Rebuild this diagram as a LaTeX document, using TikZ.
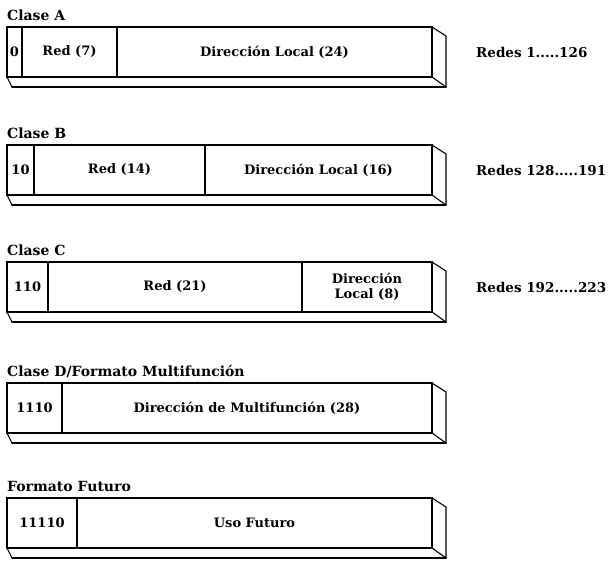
\documentclass[tikz,border=0pt]{standalone}
\usepackage{fontspec}
\setmainfont{DejaVu Serif}
\usetikzlibrary{positioning}
\tikzset{
    cell/.style={draw, line width=1.1pt, minimum height=50pt, inner sep=2pt,
                 outer sep=0pt, align=center,
                 font=\bfseries\fontsize{13}{15}\selectfont},
    clase/.style={anchor=base west, inner sep=0pt,
                  font=\bfseries\fontsize{14}{16}\selectfont},
    redes/.style={anchor=west, inner sep=0pt,
                  font=\bfseries\fontsize{13.5}{16}\selectfont},
    face/.style={draw, line width=1.1pt, line join=round},
    rim/.style={line width=2pt, line cap=round},
}

\begin{document}
\begin{tikzpicture}[x=1pt, y=-1pt]
    \useasboundingbox (0,0) rectangle (615,560);

    % Clase A
    \node[cell, anchor=north west, minimum width=15pt] (a0) at (7,27) {0};
    \node[cell, minimum width=95pt, right=0pt of a0] (a1) {Red (7)};
    \node[cell, minimum width=315pt, right=0pt of a1] (a2) {Dirección Local (24)};
    \node[above=7pt of a0.north west, clase] (ta) {Clase A};
    \node[redes] (ra) at (476,52) {Redes 1.....126};

    % Clase B
    \node[cell, anchor=north west, minimum width=27pt] (b0) at (7,145) {10};
    \node[cell, minimum width=171pt, right=0pt of b0] (b1) {Red (14)};
    \node[cell, minimum width=227pt, right=0pt of b1] (b2) {Dirección Local (16)};
    \node[above=7pt of b0.north west, clase] (tb) {Clase B};
    \node[redes] (rb) at (476,170) {Redes 128.....191};

    % Clase C
    \node[cell, anchor=north west, minimum width=41pt] (c0) at (7,262) {110};
    \node[cell, minimum width=254pt, right=0pt of c0] (c1) {Red (21)};
    \node[cell, minimum width=130pt, right=0pt of c1] (c2) {Dirección\\Local (8)};
    \node[above=7pt of c0.north west, clase] (tc) {Clase C};
    \node[redes] (rc) at (476,287) {Redes 192.....223};

    % Clase D
    \node[cell, anchor=north west, minimum width=55pt] (d0) at (7,383) {1110};
    \node[cell, minimum width=370pt, right=0pt of d0] (d1) {Dirección de Multifunción (28)};
    \node[above=7pt of d0.north west, clase] (td) {Clase D/Formato Multifunción};

    % Formato futuro
    \node[cell, anchor=north west, minimum width=70pt] (e0) at (7,498) {11110};
    \node[cell, minimum width=355pt, right=0pt of e0] (e1) {Uso Futuro};
    \node[above=7pt of e0.north west, clase] (te) {Formato Futuro};

    % caras lateral e inferior
    \foreach \l/\r in {a0/a2, b0/b2, c0/c2, d0/d1, e0/e1} {
        \draw[face] (\r.north east) -- ++(14,9)
            -- ([xshift=14pt, yshift=-10pt]\r.south east) -- (\r.south east);
        \draw[face] (\l.south west) -- ([xshift=5pt, yshift=-10pt]\l.south west);
        \draw[rim] ([xshift=5pt, yshift=-10pt]\l.south west)
            -- ([xshift=14pt, yshift=-10pt]\r.south east);
    }

\end{tikzpicture}
\end{document}
